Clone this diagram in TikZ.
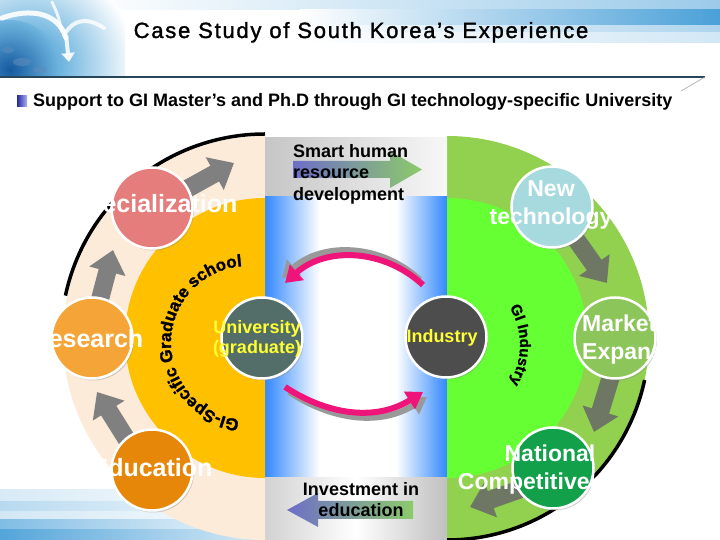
\documentclass[tikz,border=0pt]{standalone}
\usepackage{fontspec}
\setmainfont{Liberation Sans}
\usetikzlibrary{arrows.meta,calc,decorations.text,shadows}
\pgfdeclarelayer{fore}
\pgfsetlayers{main,fore}
\newcommand{\curvefontA}{\fontsize{17}{17}\selectfont\bfseries\addfontfeature{FakeBold=1.5}}
\newcommand{\curvefontB}{\fontsize{15}{15}\selectfont\bfseries\addfontfeature{FakeBold=1.2}}
\definecolor{peach}{RGB}{253,235,217}
\definecolor{gold}{RGB}{255,192,0}
\definecolor{ringgreen}{RGB}{146,208,80}
\definecolor{lime}{RGB}{102,255,51}
\definecolor{bandblue}{RGB}{51,136,255}
\definecolor{pinkc}{RGB}{238,20,122}
\definecolor{cspec}{RGB}{230,125,125}
\definecolor{cres}{RGB}{245,165,55}
\definecolor{cedu}{RGB}{230,135,10}
\definecolor{cuni}{RGB}{83,110,104}
\definecolor{cind}{RGB}{77,77,77}
\definecolor{cnew}{RGB}{167,218,223}
\definecolor{cmkt}{RGB}{140,198,90}
\definecolor{cnat}{RGB}{18,160,75}
\definecolor{arrgray}{RGB}{128,128,128}
\definecolor{arrgreen}{RGB}{110,118,100}
\definecolor{skyblue}{RGB}{74,160,216}
\definecolor{globeblue}{RGB}{50,150,210}
\definecolor{globedark}{RGB}{20,90,160}
\definecolor{hdrline}{RGB}{40,70,90}
\definecolor{arrblue}{RGB}{110,110,200}
\definecolor{arrgrn}{RGB}{140,203,106}
\definecolor{yellowtxt}{RGB}{255,255,51}
\definecolor{bulletdark}{RGB}{40,40,160}
\definecolor{bulletlight}{RGB}{170,180,240}
\definecolor{graya}{RGB}{210,210,210}
\definecolor{grayb}{RGB}{192,192,192}
\pgfdeclarehorizontalshading{bandshade}{100bp}{color(0bp)=(bandblue); color(25bp)=(bandblue); color(40bp)=(white); color(61bp)=(white); color(75bp)=(bandblue); color(100bp)=(bandblue)}
\pgfdeclarehorizontalshading{botgray}{100bp}{color(0bp)=(graya); color(25bp)=(graya); color(50bp)=(white); color(75bp)=(grayb); color(100bp)=(grayb)}
\begin{document}
\begin{tikzpicture}[x=1pt,y=1pt,
  circ/.style={circle, draw=white, line width=2.5pt, minimum size=81pt, inner sep=0pt,
    drop shadow={shadow xshift=1.5pt, shadow yshift=-2pt, opacity=0.35}},
  bigtxt/.style={text=white, font=\fontsize{25}{30}\selectfont\bfseries, inner sep=0pt},
  rtxt/.style={text=white, font=\fontsize{23}{28}\selectfont\bfseries, inner sep=0pt},
  midtxt/.style={text=yellowtxt, font=\fontsize{18}{20}\selectfont\bfseries, inner sep=0pt, align=center},
  blocktxt/.style={text=black, font=\fontsize{18}{21.5}\selectfont\bfseries, inner sep=0pt},
  blockarrow/.style={line width=18pt, -{Triangle[width=36pt,length=22pt]}},
  pinkarrow/.style={line width=6pt, pinkc, -{Triangle[width=20pt,length=16pt]}},
  pinkshadow/.style={line width=6pt, gray!80, -{Triangle[width=20pt,length=16pt]}},
]
\useasboundingbox (0,0) rectangle (720,540);
\fill[white] (0,0) rectangle (720,540);

% ---------- header decoration ----------
\shade[left color=white, right color=skyblue!55] (80,530) rectangle (720,540);
\shade[left color=white, right color=skyblue] (300,514) rectangle (720,530);
\shade[left color=white, right color=skyblue!45] (300,507) rectangle (720,514);
\shade[left color=white, right color=skyblue!25] (300,497) rectangle (720,507);
\begin{scope}
  \clip (0,462) rectangle (125,540);
  \shade[inner color=globeblue, outer color=white] (30,475) circle (105);
  \shade[inner color=globedark, outer color=globeblue!70] (10,470) circle (50);
  \fill[globedark!70, opacity=0.6] (22,478) ellipse (9 and 4);
  \fill[globedark!70, opacity=0.6] (8,490) ellipse (6 and 3);
  \fill[globedark!70, opacity=0.6] (40,470) ellipse (7 and 3);
  \draw[white, line width=5pt, line cap=round, opacity=0.9] (2,522) .. controls (30,532) and (58,528) .. (66,502);
  \draw[white, line width=4pt, opacity=0.85, -{Triangle[width=13pt,length=9pt]}] (66,505) -- (69,478);
  \draw[white, line width=4pt, line cap=round, opacity=0.8] (64,505) .. controls (76,525) and (92,520) .. (104,512);
  \draw[white, line width=3pt, line cap=round, opacity=0.8] (62,508) .. controls (58,525) .. (52,538);
\end{scope}
\draw[hdrline, line width=1.2pt] (0,463) -- (705,463);
\draw[gray!70, line width=0.6pt] (705,463) -- (681,449);

\node[font=\fontsize{22}{26}\selectfont\addfontfeature{LetterSpace=8,FakeBold=1.5}, anchor=base, inner sep=0pt] (title) at (361,502) {Case Study of South Korea's Experience};
\shade[left color=bulletdark, right color=bulletlight] (17,433) rectangle (27,444);
\node[font=\fontsize{18}{21}\selectfont\bfseries, anchor=base west, inner sep=0pt] (sub) at (33,433) {Support to GI Master’s and Ph.D through GI technology-specific University};

% ---------- bottom-left stripes ----------
\shade[left color=skyblue!22, right color=white] (0,38) rectangle (290,50);
\shade[left color=skyblue!40, right color=white] (0,28) rectangle (290,38);
\shade[left color=skyblue!25, right color=white] (0,20) rectangle (290,28);
\shade[left color=skyblue!70, right color=white] (0,10) rectangle (290,20);
\shade[left color=skyblue!95, right color=skyblue!15] (0,0) rectangle (290,10);

% ---------- main rings ----------
\fill[peach] (265,404) arc[start angle=90, end angle=270, radius=202] -- cycle;
\fill[ringgreen] (447,404) arc[start angle=90, end angle=-90, radius=202] -- cycle;
\shade[left color=gray!45, right color=gray!6] (265,343) rectangle (447,402);
\shade[shading=bandshade] (265,62) rectangle (447,343);
\shade[shading=botgray] (265,0) rectangle (447,62);
\fill[gold] (265,342) arc[start angle=90, end angle=270, radius=140] -- cycle;
\fill[lime] (447,342) arc[start angle=90, end angle=-90, radius=140] -- cycle;
\draw[line width=3.5pt] (265,406) arc[start angle=90, end angle=168, radius=204];
\draw[line width=3.5pt] (644.6,160) arc[start angle=-12, end angle=-90, radius=202];

% ---------- curved texts ----------
\path[decorate, decoration={text along path, text align=center,
  text={|\curvefontA|GI-Specific Graduate school}}]
  (239.95,120.36) arc[start angle=264, end angle=94, radius=77];
\path[decorate, decoration={text along path, text align=center,
  text={|\curvefontB|GI Industry}}]
  (508.91,233.68) arc[start angle=32, end angle=-32, radius=73];

% ---------- gradient arrows and texts in the band ----------
\shade[left color=arrblue, right color=arrgrn] (293,362) -- (390,362) -- (390,352) -- (422,370.5) -- (390,389) -- (390,379) -- (293,379) -- cycle;
\shade[left color=arrblue, right color=arrgrn] (413,21) -- (318,21) -- (318,13) -- (287,30) -- (318,47) -- (318,39) -- (413,39) -- cycle;
\node[blocktxt, align=left, anchor=north west] (smart) at (293,396) {Smart human\\resource\\development};
\node[blocktxt, align=center, anchor=north] (invest) at (361,58) {Investment in\\education};

% ---------- circles (upper layer) ----------
\coordinate (smartin) at (234,377);
\coordinate (eduin) at (470,33);
\begin{pgfonlayer}{fore}
\node[circ, fill=cspec] (spec) at (152,332) {};
\node[circ, fill=cres] (res) at (92,202) {};
\node[circ, fill=cedu] (edu) at (152,70) {};
\node[circ, fill=cuni] (uni) at (262,202) {};
\node[circ, fill=cind] (ind) at (446,203) {};
\node[circ, fill=cnew] (newt) at (552,333) {};
\node[circ, fill=cmkt] (mkt) at (615,202) {};
\node[circ, fill=cnat] (nat) at (553,72) {};
\end{pgfonlayer}

% ---------- gray block arrows (below circles) ----------
\draw[blockarrow, arrgray] ($(edu)+(-23,27)$) -- ($(res)+(5,-54)$);
\draw[blockarrow, arrgray] ($(res)+(7,35)$) -- ($(spec)+(-39,-42)$);
\draw[blockarrow, arrgray] ($(spec)+(33,18)$) -- (smartin);
\draw[blockarrow, arrgreen] ($(newt)+(23,-31)$) -- ($(mkt)+(-8,55)$);
\draw[blockarrow, arrgreen] ($(mkt)+(-2,-32)$) -- ($(nat)+(41,36)$);
\draw[blockarrow, arrgreen] ($(nat)+(-32,-21)$) -- (eduin);

% ---------- pink arrows ----------
\draw[pinkshadow, transform canvas={shift={(-3pt,5pt)}}] ($(ind)+(-23,52)$) to[out=137, in=42] ($(uni)+(23,55)$);
\draw[pinkarrow] ($(ind)+(-23,52)$) to[out=137, in=42] ($(uni)+(23,55)$);
\draw[pinkshadow, transform canvas={shift={(4pt,-5pt)}}] ($(uni)+(23,-49)$) to[out=-33, in=212] ($(ind)+(-23,-55)$);
\draw[pinkarrow] ($(uni)+(23,-49)$) to[out=-33, in=212] ($(ind)+(-23,-55)$);

% ---------- circle texts ----------
\begin{pgfonlayer}{fore}
\node[bigtxt, anchor=base] (tspec) at (154,327) {Specialization};
\node[bigtxt, anchor=base] (tres) at (87,192) {Research};
\node[bigtxt, anchor=base] (tedu) at (152,63) {Education};
\node[midtxt, anchor=north] (tuni) at (257,220) {University\\(graduate)};
\node[midtxt, anchor=base] (tind) at (442,197) {Industry};
\node[rtxt, align=center, anchor=north] (tnew) at (551,360) {New\\technology};
\node[rtxt, align=left, anchor=north west] (tmkt) at (582,225) {Market\\Expansion};
\node[rtxt, align=center, anchor=north] (tnat) at (550,95) {National\\Competitiveness};
\end{pgfonlayer}
\end{tikzpicture}
\end{document}
